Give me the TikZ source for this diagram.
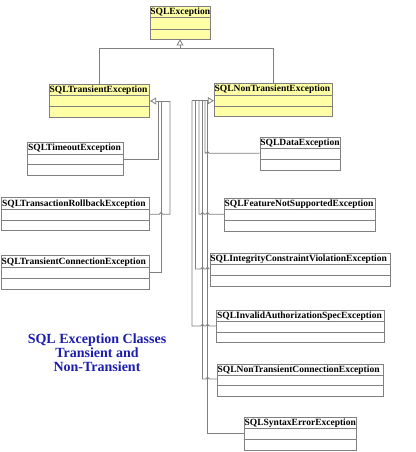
\documentclass[tikz,border=0pt]{standalone}
\usepackage{fontspec}
\setmainfont{Liberation Serif}
\usetikzlibrary{arrows.meta,fit}
\definecolor{linegray}{HTML}{7F7F7F}
\definecolor{boxgray}{HTML}{808080}
\definecolor{umlyellow}{HTML}{FFFFA6}
\definecolor{titleblue}{HTML}{1C1CB0}
\tikzset{
  umlframe/.style={draw=boxgray, line width=0.8pt, inner sep=0pt},
  lbl/.style={font=\fontsize{9.5}{10}\selectfont\bfseries, inner sep=0pt, text=black},
  conn/.style={draw=linegray, line width=0.8pt},
  inh/.style={conn, -{Triangle[length=6pt,width=7pt,fill=white]}},
  titletext/.style={font=\fontsize{14}{14}\selectfont\bfseries, text=titleblue, align=center}
}
\newcommand{\umlbox}[9]{%
  \node[umlframe, fill=#9, fit={(#2,#3) (#4,#5)}] (#1) {};
  \draw[draw=boxgray, line width=0.8pt] (#1.west |- 0,#6) -- (#1.east |- 0,#6);
  \draw[draw=boxgray, line width=0.8pt] (#1.west |- 0,#7) -- (#1.east |- 0,#7);
  \node[lbl, anchor=west] (#1-t) at ([xshift=0.6pt]#1.west |- 0,{(#3+#6)/2+0.3}) {#8};
}
\begin{document}
\begin{tikzpicture}[x=1pt,y=-1pt]
\useasboundingbox (0,0) rectangle (415,452);
% boxes
\umlbox{ex}{150}{6}{210}{39}{17}{29}{SQLException}{umlyellow}
\umlbox{tr}{49.3}{84}{149.7}{117.7}{95}{106.7}{SQLTransientException}{umlyellow}
\umlbox{nt}{214.3}{83.3}{332.3}{116.7}{95}{106}{SQLNonTransientException}{umlyellow}
\umlbox{to}{27.7}{142.7}{123.3}{175.7}{154}{164.3}{SQLTimeoutException}{white}
\umlbox{rb}{1.7}{197.7}{149}{230.3}{209.3}{220}{SQLTransactionRollbackException}{white}
\umlbox{tc}{1.3}{255.7}{149.7}{289.3}{267.3}{278.3}{SQLTransientConnectionException}{white}
\umlbox{da}{260}{137.3}{340}{170}{148.3}{159.3}{SQLDataException}{white}
\umlbox{fn}{224.3}{198.3}{375.7}{231}{209.3}{220.3}{SQLFeatureNotSupportedException}{white}
\umlbox{ic}{210}{253.3}{390}{286}{264.3}{275.3}{SQLIntegrityConstraintViolationException}{white}
\umlbox{ia}{216.7}{310}{384}{342.7}{321.7}{332.3}{SQLInvalidAuthorizationSpecException}{white}
\umlbox{nc}{217.3}{364}{383.3}{396.7}{375}{385.7}{SQLNonTransientConnectionException}{white}
\umlbox{se}{244.3}{417.3}{356.7}{450}{428.3}{439}{SQLSyntaxErrorException}{white}
% top inheritance
\coordinate (topj) at (ex.south |- 0,48.7);
\draw[conn] (tr.north -| 99.3,0) -- (99.3,48.7) -- (273.3,48.7) -- (nt.north -| 273.3,0);
\draw[inh] (topj) -- (ex.south);
% left inheritance
\coordinate (lj) at (170,101);
\draw[inh] (lj) -- (tr.east |- lj);
\draw[conn] (to.east |- 0,159) -- (158.3,159) -- (158.3,101);
\draw[conn] (tc.east |- 0,272) -- (161,272) -- (161,101);
\draw[conn] (rb.east |- 0,214.3) -- (159.2,214.3) arc[start angle=180,end angle=360,radius=1.8] -- (170,214.3) -- (lj);
% right inheritance
\coordinate (rj) at (192,100.7);
\draw[inh] (rj) -- (nt.west |- rj);
\draw[conn] (205,100.7) -- (205,153.3) -- (205.7,153.3) arc[start angle=180,end angle=360,radius=1.8] -- (da.west |- 0,153.3);
\draw[conn] (199,100.7) -- (199,214.3) -- (200.7,214.3) arc[start angle=180,end angle=360,radius=1.8] -- (205.7,214.3) arc[start angle=180,end angle=360,radius=1.8] -- (fn.west |- 0,214.3);
\draw[conn] (195.5,100.7) -- (195.5,269) -- (200.7,269) arc[start angle=180,end angle=360,radius=1.8] -- (205.7,269) arc[start angle=180,end angle=360,radius=1.8] -- (ic.west |- 0,269);
\draw[conn] (rj) -- (192,326) -- (200.7,326) arc[start angle=180,end angle=360,radius=1.8] -- (205.7,326) arc[start angle=180,end angle=360,radius=1.8] -- (ia.west |- 0,326);
\draw[conn] (202.5,100.7) -- (202.5,379) -- (205.7,379) arc[start angle=180,end angle=360,radius=1.8] -- (nc.west |- 0,379);
\draw[conn] (207.5,100.7) -- (207.5,433) -- (se.west |- 0,433);
% title
\node[titletext] (title) at (97,353) {SQL Exception Classes\\Transient and\\Non-Transient};
\end{tikzpicture}
\end{document}
